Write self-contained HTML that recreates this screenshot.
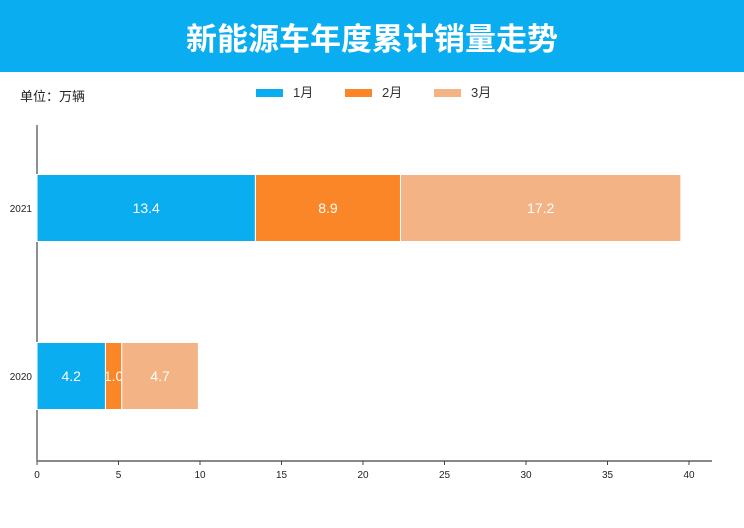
<!DOCTYPE html>
<html><head><meta charset="utf-8"><style>
body{margin:0;width:744px;height:528px;background:#fff;font-family:"Liberation Sans","Noto Sans CJK SC",sans-serif;overflow:hidden;position:relative}
#hdr{position:absolute;left:0;top:0;width:744px;height:72px;background:#0aaef0;color:#fff;font-size:31px;font-weight:bold;text-align:center;line-height:74px;font-family:"Noto Sans CJK SC",sans-serif}
</style></head><body>
<div id="hdr">新能源车年度累计销量走势</div>
<svg id="c" width="744" height="528" style="position:absolute;left:0;top:0"></svg>
<script>
const categories=["2021","2020"];
const seriesNames=["1月","2月","3月"];
const jan=[13.4,4.2];
const feb=[8.9,1.0];
const mar=[17.2,4.7];
const xTicks=[0,5,10,15,20,25,30,35,40];
const colors=["#0aaef0","#fa8628","#f4b384"];
const svg=document.getElementById('c');
const NS="http://www.w3.org/2000/svg";
function mk(t,a,p){const e=document.createElementNS(NS,t);for(const k in a)e.setAttribute(k,a[k]);(p||svg).appendChild(e);return e;}
const x0=37,x1=689;
const xs=v=>x0+(v/40)*(x1-x0);
const yc=[208,376],bh=67;
const ys=i=>yc[i];
// unit label
let t=mk('text',{x:20,y:101,'font-size':13,fill:'#222'});t.textContent="单位：万辆";

// legend
const lx=[256,345,434];
seriesNames.forEach((n,i)=>{
 const r=mk('rect',{x:lx[i],y:89,width:27,height:8,fill:colors[i]});
 
 const tt=mk('text',{x:lx[i]+37,y:97,'font-size':13,fill:'#333'});tt.textContent=n;
 
});
// axes
let a=mk('line',{x1:x0,y1:125,x2:x0,y2:461,stroke:'#222','stroke-width':1});

a=mk('line',{x1:x0,y1:461,x2:712,y2:461,stroke:'#888','stroke-width':2});

xTicks.forEach(v=>{
 const l=mk('line',{x1:xs(v),y1:461,x2:xs(v),y2:465,stroke:'#444'});
 
 const tt=mk('text',{x:xs(v),y:478,'font-size':10,'text-anchor':'middle',fill:'#222'});tt.textContent=v;
 
});
const all=[jan,feb,mar];
categories.forEach((c,i)=>{
 const tt=mk('text',{x:32,y:ys(i)+4,'font-size':10,'text-anchor':'end',fill:'#222'});tt.textContent=c;
 
 let acc=0;
 all.forEach((s,j)=>{
  const v=s[i];
  const r=mk('rect',{x:xs(acc),y:ys(i)-bh/2,width:xs(acc+v)-xs(acc),height:bh,fill:colors[j],stroke:'#fff','stroke-width':1});
  
  const lb=mk('text',{x:(xs(acc)+xs(acc+v))/2,y:ys(i)+5,'font-size':14,'text-anchor':'middle',fill:'#fff'});lb.textContent=v.toFixed(1);
  
  acc+=v;
 });
});
</script>
</body></html>
